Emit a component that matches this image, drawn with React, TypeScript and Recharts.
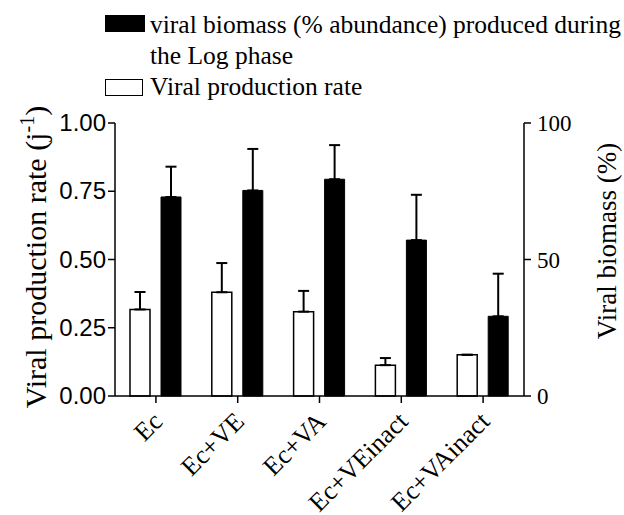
import React from 'react';
import { BarChart, Bar, XAxis, YAxis, ErrorBar } from 'recharts';

const categories = ['Ec', 'Ec+VE', 'Ec+VA', 'Ec+VEinact', 'Ec+VAinact'];
const productionRate = [0.317, 0.38, 0.309, 0.113, 0.151];
const productionRateErr = [0.064, 0.107, 0.076, 0.026, 0];
const biomass = [72.9, 75.3, 79.4, 57.1, 29.2];
const biomassErr = [11.1, 15.2, 12.5, 16.6, 15.6];
const leftTicks = [0, 0.25, 0.5, 0.75, 1];
const rightTicks = [0, 50, 100];

const data = categories.map((c, i) => ({
  cat: c,
  rate: productionRate[i],
  rateErr: [0, productionRateErr[i]],
  bio: biomass[i],
  bioErr: [0, biomassErr[i]],
}));

const SERIF = 'Liberation Serif';
const SANS = 'Liberation Sans';

const XTick = (props: any) => {
  const { x, y, payload } = props;
  const ax = x + 8;
  const ay = y + 18;
  return (
    <text
      x={ax}
      y={ay}
      transform={`rotate(-45, ${ax}, ${ay})`}
      textAnchor="end"
      style={{ fontFamily: SERIF, fontSize: 26 }}
      fill="#000"
    >
      {payload.value}
    </text>
  );
};

const RightTick = (props: any) => {
  const { x, y, payload } = props;
  return (
    <text
      x={x + 4}
      y={y}
      dy={8}
      textAnchor="start"
      style={{ fontFamily: SERIF, fontSize: 23 }}
      fill="#000"
    >
      {payload.value}
    </text>
  );
};

const LeftTick = (props: any) => {
  const { x, y, payload } = props;
  return (
    <text
      x={x}
      y={y}
      dy={8}
      textAnchor="end"
      style={{ fontFamily: SANS, fontSize: 24 }}
      fill="#000"
    >
      {Number(payload.value).toFixed(2)}
    </text>
  );
};

const LeftLabel = () => (
  <text
    x={46}
    y={257}
    transform="rotate(-90, 46, 257)"
    textAnchor="middle"
    style={{ fontFamily: SERIF, fontSize: 30 }}
    fill="#000"
  >
    Viral production rate (j
    <tspan style={{ fontSize: 20 }} dy={-12}>-1</tspan>
    <tspan dy={12}>)</tspan>
  </text>
);

const RightLabel = () => (
  <text
    x={616}
    y={241}
    transform="rotate(-90, 616, 241)"
    textAnchor="middle"
    style={{ fontFamily: SERIF, fontSize: 27 }}
    fill="#000"
  >
    Viral biomass (%)
  </text>
);

export default function App() {
  return (
    <div style={{ position: 'absolute', left: 0, top: 0, width: 624, height: 515, background: '#fff' }}>
      <div style={{ position: 'absolute', left: 105, top: 15, width: 40, height: 17, background: '#000' }} />
      <div
        style={{
          position: 'absolute',
          left: 150,
          top: 9,
          fontFamily: SERIF,
          fontSize: 25.5,
          lineHeight: '31px',
          color: '#000',
          whiteSpace: 'nowrap',
        }}
      >
        viral biomass (% abundance) produced during
        <br />
        the Log phase
      </div>
      <div
        style={{
          position: 'absolute',
          left: 105,
          top: 79,
          width: 36,
          height: 15,
          background: '#fff',
          border: '1.5px solid #000',
        }}
      />
      <div
        style={{
          position: 'absolute',
          left: 150,
          top: 71,
          fontFamily: SERIF,
          fontSize: 25.5,
          lineHeight: '31px',
          color: '#000',
          whiteSpace: 'nowrap',
        }}
      >
        Viral production rate
      </div>
      <div style={{ position: 'absolute', left: 0, top: 0 }}>
        <BarChart
          width={624}
          height={515}
          data={data}
          margin={{ top: 123, right: 40, bottom: 59, left: 55 }}
          barSize={20}
          barGap={11}
        >
          <XAxis
            dataKey="cat"
            height={60}
            tick={<XTick />}
            tickSize={7}
            axisLine={{ stroke: '#000', strokeWidth: 1.5 }}
            tickLine={{ stroke: '#000', strokeWidth: 1.5 }}
            interval={0}
          />
          <YAxis
            yAxisId="left"
            width={60}
            domain={[0, 1]}
            ticks={leftTicks}
            tickSize={7}
            tick={<LeftTick />}
            axisLine={{ stroke: '#000', strokeWidth: 1.5 }}
            tickLine={{ stroke: '#000', strokeWidth: 1.5 }}
            label={<LeftLabel />}
          />
          <YAxis
            yAxisId="right"
            orientation="right"
            width={60}
            domain={[0, 100]}
            ticks={rightTicks}
            tickSize={7}
            tick={<RightTick />}
            axisLine={{ stroke: '#000', strokeWidth: 1.5 }}
            tickLine={{ stroke: '#000', strokeWidth: 1.5 }}
            label={<RightLabel />}
          />
          <Bar
            yAxisId="left"
            dataKey="rate"
            fill="#fff"
            stroke="#000"
            strokeWidth={1.5}
            isAnimationActive={false}
          >
            <ErrorBar dataKey="rateErr" width={5.5} stroke="#000" strokeWidth={2} direction="y" />
          </Bar>
          <Bar
            yAxisId="right"
            dataKey="bio"
            fill="#000"
            stroke="#000"
            strokeWidth={1}
            isAnimationActive={false}
          >
            <ErrorBar dataKey="bioErr" width={5.5} stroke="#000" strokeWidth={2} direction="y" />
          </Bar>
        </BarChart>
      </div>
    </div>
  );
}
